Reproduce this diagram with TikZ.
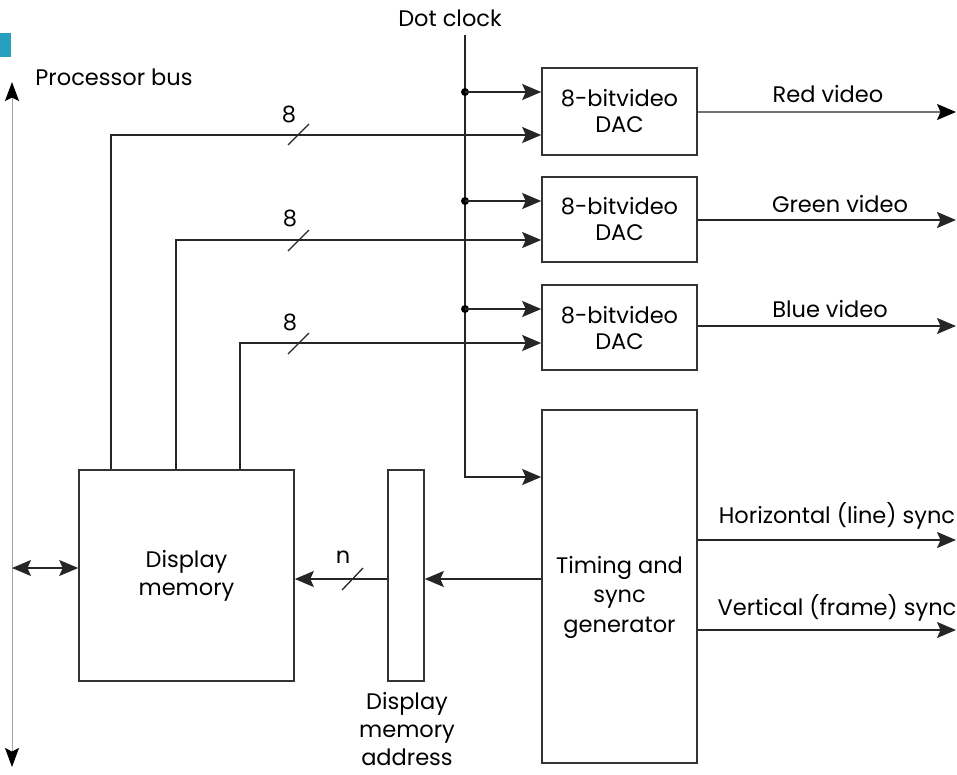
\documentclass[tikz,border=0pt]{standalone}
\usepackage{fontspec}
\setmainfont{Poppins}
\usetikzlibrary{arrows.meta}
\newcommand{\fs}{\fontsize{22.5pt}{27pt}\selectfont}
\definecolor{tealbar}{RGB}{38,160,190}
\begin{document}
\begin{tikzpicture}[x=1pt,y=-1pt,
  box/.style={draw=black!80,line width=1.6pt,inner sep=0pt,align=center,font=\fs},
  wire/.style={draw=black!85,line width=1.6pt},
  tip/.style={-{Stealth[length=19pt,width=16pt,inset=3.5pt]}},
  arr/.style={wire,tip},
  lbl/.style={inner sep=0pt,font=\fs,align=center},
  slash/.style={draw=black!85,line width=1.3pt}]
\useasboundingbox (0,0) rectangle (957,774);
\fill[tealbar] (0,33) rectangle (11,57);

% boxes
\node[box,minimum width=215pt,minimum height=211pt,font=\fontsize{22.5pt}{28pt}\selectfont] (dm) at (186.5,575.5) {Display\\memory};
\node[box,minimum width=36pt,minimum height=211pt] (dma) at (406,575.5) {};
\node[box,minimum width=155pt,minimum height=353pt] (tsg) at (619.5,586.5) {};
\node[lbl,font=\fontsize{22.5pt}{29.5pt}\selectfont] (tsgt) at (619.5,597) {Timing and\\sync\\generator};
\node[box,minimum width=155pt,minimum height=87pt,font=\fontsize{22.5pt}{26pt}\selectfont] (dac1) at (619.5,111.5) {8-bitvideo\\DAC};
\node[box,minimum width=155pt,minimum height=85pt,font=\fontsize{22.5pt}{26pt}\selectfont] (dac2) at (619.5,219.5) {8-bitvideo\\DAC};
\node[box,minimum width=155pt,minimum height=85pt,font=\fontsize{22.5pt}{26pt}\selectfont] (dac3) at (619.5,327.5) {8-bitvideo\\DAC};

% labels
\node[lbl] (pb) at (114,77) {Processor bus};
\node[lbl] (dcl) at (450,18) {Dot clock};
\node[lbl,font=\fontsize{22.5pt}{28pt}\selectfont] (dmal) at (407,729) {Display\\memory\\address};
\node[lbl] (rv) at (828,94) {Red video};
\node[lbl] (gv) at (840,204) {Green video};
\node[lbl] (bv) at (830,309) {Blue video};
\node[lbl] (hs) at (837,516) {Horizontal (line) sync};
\node[lbl] (vs) at (837,608) {Vertical (frame) sync};
\node[lbl] (n8a) at (289,114) {8};
\node[lbl] (n8b) at (290,218) {8};
\node[lbl] (n8c) at (290,322) {8};
\node[lbl] (nn) at (343,557) {n};

% processor bus
\coordinate (bt) at (12,82);
\coordinate (bb) at (12,767);
\coordinate (bm) at (12,568);
\draw[black!35,line width=1pt,{Stealth[length=19pt,width=14pt,inset=3.5pt,color=black]}-{Stealth[length=19pt,width=14pt,inset=3.5pt,color=black]}] (bt) -- (bb);
\draw[wire,line width=1.2pt,{Stealth[length=19pt,width=16pt,inset=3.5pt]}-{Stealth[length=19pt,width=16pt,inset=3.5pt]}] (bm) -- (bm -| dm.west);

% dot clock
\coordinate (c0) at (465,35);
\coordinate (j1) at (465,92);
\coordinate (j2) at (465,201);
\coordinate (j3) at (465,309);
\coordinate (ct) at (465,477);
\draw[arr] (c0) |- (tsg.west |- ct);
\foreach \j/\d in {j1/dac1,j2/dac2,j3/dac3}{
  \fill[black] (\j) circle[radius=4pt];
  \draw[arr] (\j) -- (\d.west |- \j);
}

% data lines
\coordinate (y1) at (0,135);
\coordinate (y2) at (0,240);
\coordinate (y3) at (0,343);
\draw[arr] ([xshift=33pt]dm.north west) |- (dac1.west |- y1);
\draw[arr] ([xshift=98pt]dm.north west) |- (dac2.west |- y2);
\draw[arr] ([xshift=162pt]dm.north west) |- (dac3.west |- y3);
\draw[slash] (288,145) -- (309,124);
\draw[slash] (288,251) -- (309,230);
\draw[slash] (288,354) -- (309,333);

% address path
\coordinate (ay) at (0,579);
\draw[arr] (tsg.west |- ay) -- (dma.east |- ay);
\draw[arr] (dma.west |- ay) -- (dm.east |- ay);
\draw[slash] (342,590) -- (363,568);

% outputs
\coordinate (o1) at (956,112);
\coordinate (o2) at (956,220);
\coordinate (o3) at (956,326);
\coordinate (o4) at (956,540);
\coordinate (o5) at (956,630);
\draw[wire,draw=black!55,line width=1.2pt,-{Stealth[length=19pt,width=16pt,inset=3.5pt,color=black]}] (o1 -| dac1.east) -- (o1);
\draw[arr] (o2 -| dac2.east) -- (o2);
\draw[arr] (o3 -| dac3.east) -- (o3);
\draw[arr] (o4 -| tsg.east) -- (o4);
\draw[arr] (o5 -| tsg.east) -- (o5);
\end{tikzpicture}
\end{document}
